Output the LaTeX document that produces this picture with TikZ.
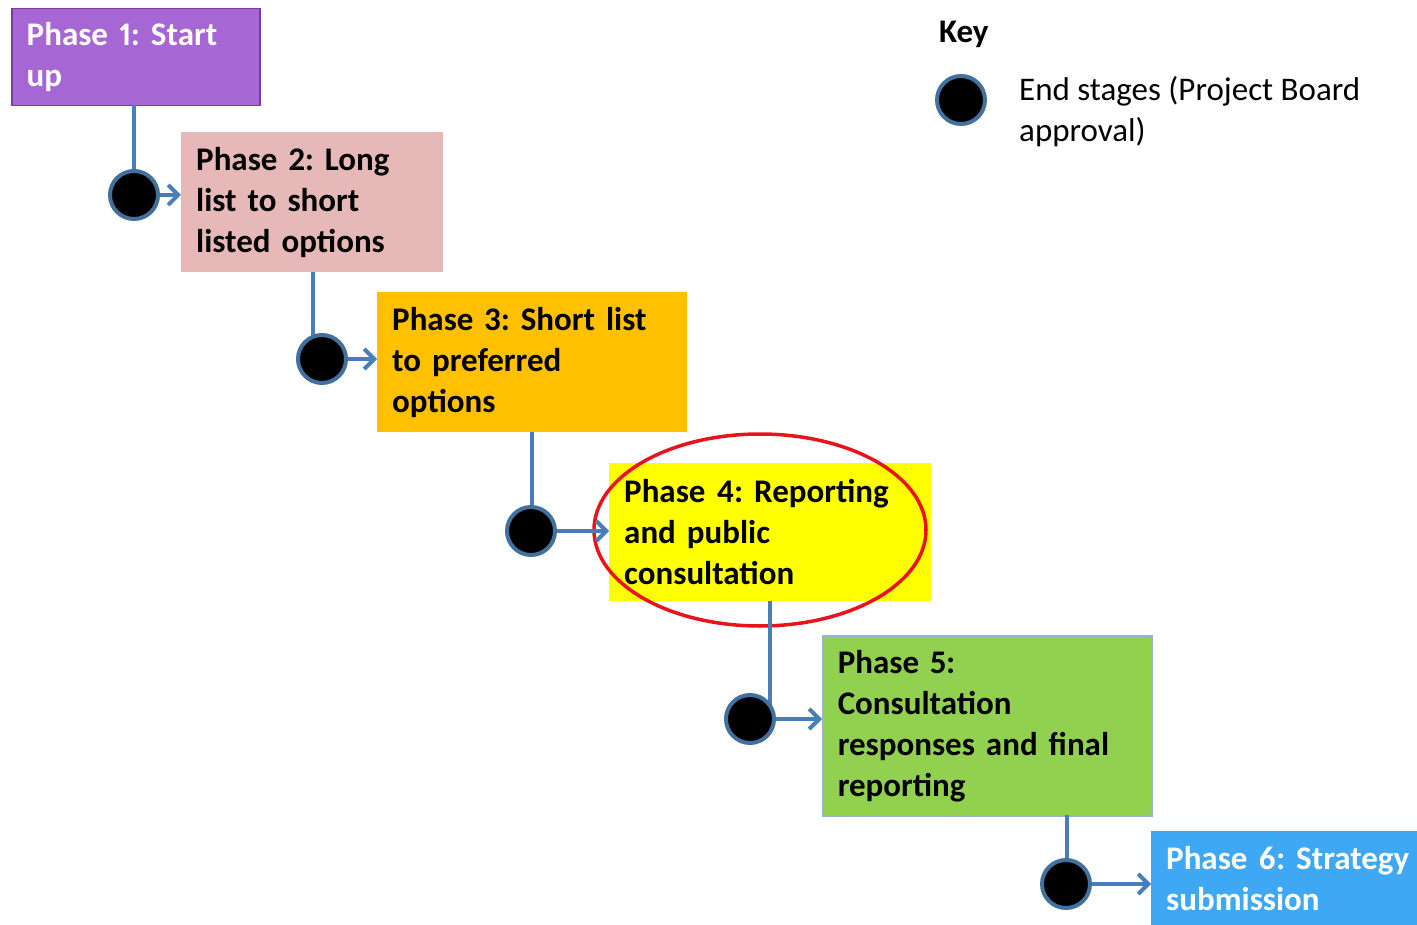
\documentclass[tikz,border=0pt]{standalone}
\usepackage{fontspec}
\setmainfont{Carlito}[Numbers=Proportional]
\usetikzlibrary{arrows.meta,shapes.geometric}
\frenchspacing
\hyphenpenalty=10000
\exhyphenpenalty=10000
\definecolor{pPurple}{RGB}{166,102,212}
\definecolor{pPurpleB}{RGB}{120,60,170}
\definecolor{pPink}{RGB}{230,185,184}
\definecolor{pOrange}{RGB}{255,192,0}
\definecolor{pYellow}{RGB}{255,255,0}
\definecolor{pGreen}{RGB}{146,208,80}
\definecolor{pGreenB}{RGB}{149,179,215}
\definecolor{pBlue}{RGB}{62,168,245}
\definecolor{lineC}{RGB}{74,126,187}
\definecolor{circB}{RGB}{65,113,156}
\definecolor{redC}{RGB}{232,20,26}
\tikzset{
  phasebox/.style={anchor=north west, rectangle, align=left, inner xsep=15pt, inner ysep=0pt,
    font=\fontsize{33}{41}\selectfont\bfseries},
  endc/.style={circle, fill=black, draw=circB, line width=4pt, minimum size=48pt, inner sep=0pt},
  link/.style={draw=lineC, line width=4pt},
  arr/.style={draw=lineC, line width=4pt, -{Straight Barb[length=10pt,width=20pt,line width=4pt]}},
}
\begin{document}
\begin{tikzpicture}[x=1pt,y=-1pt]
\useasboundingbox (0,0) rectangle (1417,925);
% boxes
\node[phasebox, fill=pPurple, draw=pPurpleB, line width=1.5pt, text=white, text width=218pt, minimum height=97pt] (p1) at (11,8) {Phase 1: Start\\up};
\node[phasebox, fill=pPink, text width=232pt, minimum height=140pt] (p2) at (181,132) {Phase 2: Long\\list to short\\listed options};
\node[phasebox, fill=pOrange, text width=280pt, minimum height=140pt] (p3) at (377,292) {Phase 3: Short list\\to preferred\\options};
\node[phasebox, fill=pYellow, text width=292pt, minimum height=138pt] (p4) at (609,463) {Phase 4: Reporting\\and public\\consultation};
\node[phasebox, fill=pGreen, draw=pGreenB, line width=1.5pt, text width=299pt, minimum height=180pt] (p5) at (822,635) {Phase 5:\\Consultation\\responses and final\\reporting};
\node[phasebox, fill=pBlue, text=white, text width=280pt, minimum height=94pt] (p6) at (1151,831) {Phase 6: Strategy\\submission};
% highlight ellipse
\node[ellipse, draw=redC, line width=3.5pt, minimum width=332pt, minimum height=192pt] (hl) at (760,530) {};
% end-stage positions
\coordinate (c1) at (134,195);
\coordinate (c2) at (322,359);
\coordinate (c3) at (531,531);
\coordinate (c4) at (750,719);
\coordinate (c5) at (1066,884);
\coordinate (b1) at (134,105);
\coordinate (b2) at (313,272);
\coordinate (b3) at (532,432);
\coordinate (b4) at (770,601);
\coordinate (b5) at (1067,815);
% vertical links
\draw[link] (b1) -- (b1 |- c1);
\draw[link] (b2) -- (b2 |- c2);
\draw[link] (b3) -- (b3 |- c3);
\draw[link] (b4) -- (b4 |- c4);
\draw[link] (b5) -- (b5 |- c5);
% circles
\node[endc] (n1) at (c1) {};
\node[endc] (n2) at (c2) {};
\node[endc] (n3) at (c3) {};
\node[endc] (n4) at (c4) {};
\node[endc] (n5) at (c5) {};
% arrows
\draw[arr] (n1.east) -- (n1.east -| p2.west);
\draw[arr] (n2.east) -- (n2.east -| p3.west);
\draw[arr] (n3.east) -- (n3.east -| p4.west);
\draw[arr] (n4.east) -- (n4.east -| p5.west);
\draw[arr] (n5.east) -- (n5.east -| p6.west);
% key
\node[anchor=west, inner sep=0pt, font=\fontsize{33}{41}\selectfont\bfseries] (keyt) at (939,34) {Key};
\node[endc] (keyc) at (961,100) {};
\node[anchor=north west, align=left, inner sep=0pt, font=\fontsize{33}{41}\selectfont] (keyl) at (1019,76) {End stages (Project Board\\approval)};
\end{tikzpicture}
\end{document}
